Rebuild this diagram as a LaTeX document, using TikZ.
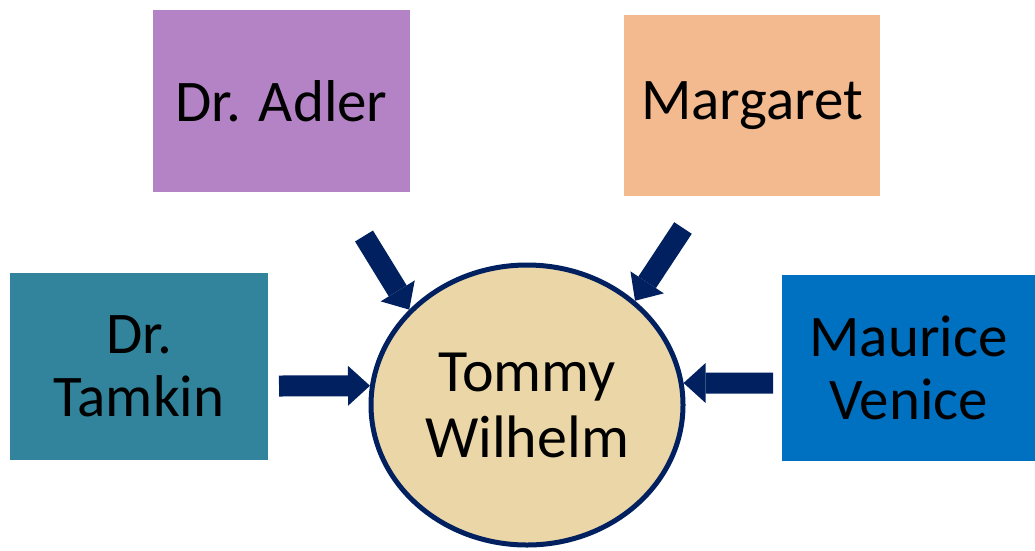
\documentclass[tikz,border=0pt]{standalone}
\usepackage{fontspec}
\setmainfont{Carlito}
\usetikzlibrary{arrows.meta,shapes.geometric}
\definecolor{adler}{RGB}{179,131,198}
\definecolor{marg}{RGB}{243,185,143}
\definecolor{tamkin}{RGB}{49,132,155}
\definecolor{maurice}{RGB}{0,112,192}
\definecolor{navy}{RGB}{0,32,96}
\definecolor{papyrus}{RGB}{234,214,166}
\begin{document}
\begin{tikzpicture}[x=1pt,y=-1pt,
  box/.style={rectangle, inner sep=0pt, align=center, font=\fontsize{59}{63}\selectfont},
  hub/.style={ellipse, draw=navy, line width=5pt, fill=papyrus, minimum width=312pt, minimum height=280pt, inner sep=0pt, align=center, font=\fontsize{60}{66}\selectfont},
  blockarrow/.style={draw=navy, line width=21pt, -{Triangle[width=40pt,length=22pt,line width=0pt]}}]
\useasboundingbox (0,0) rectangle (1035,550);
\node[box, fill=adler, minimum width=257pt, minimum height=182pt] (adler) at (281.5,101) {Dr. Adler};
\node[box, fill=marg, minimum width=256pt, minimum height=181pt] (marg) at (752,105.5) {Margaret};
\node[box, fill=tamkin, minimum width=258pt, minimum height=187pt] (tamkin) at (139,366.5) {Dr.\\Tamkin};
\node[box, fill=maurice, minimum width=253pt, minimum height=186pt] (maurice) at (908.5,368) {Maurice\\Venice};
\node[hub] (tw) at (527,405) {Tommy\\Wilhelm};
\coordinate (t1) at (279,386);
\coordinate (t2) at (773,383);
\coordinate (t3) at (364,236);
\coordinate (t4) at (683,228);
\draw[blockarrow] (t1) -- (tw.173);
\draw[blockarrow] (t2) -- (tw.8);
\draw[blockarrow] (t3) -- (tw.141);
\draw[blockarrow] (t4) -- (tw.44);
\end{tikzpicture}
\end{document}
